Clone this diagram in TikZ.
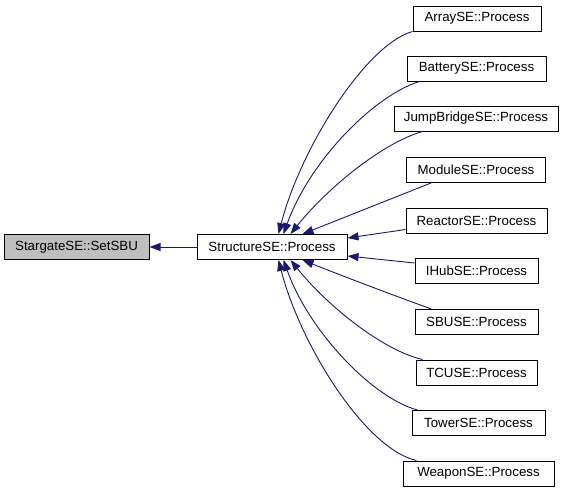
\documentclass[tikz,border=0pt]{standalone}
\usepackage{fontspec}
\setmainfont{Liberation Sans}
\usetikzlibrary{arrows.meta,calc}
\definecolor{edgeblue}{HTML}{191970}
\definecolor{hilite}{HTML}{BFBFBF}
\begin{document}
\begin{tikzpicture}[x=1pt,y=-1pt,
  fn/.style={draw=black,fill=white,line width=1pt,minimum height=25pt,inner sep=0pt,font=\fontsize{13.3}{16}\selectfont,anchor=center},
  cur/.style={fn,fill=hilite},
  edge/.style={draw=edgeblue,line width=0.9pt,{Triangle[length=11pt,width=8pt,fill=edgeblue]}-}]
\useasboundingbox (0,0) rectangle (564,493);
\node[cur,minimum width=145pt] (sg) at (76.5,247) {StargateSE::SetSBU};
\node[fn,minimum width=150pt] (st) at (272,247) {StructureSE::Process};
\node[fn,minimum width=128pt] (arr) at (477,18.5) {ArraySE::Process};
\node[fn,minimum width=139pt] (bat) at (476.5,68.5) {BatterySE::Process};
\node[fn,minimum width=164pt] (jmp) at (476,118.5) {JumpBridgeSE::Process};
\node[fn,minimum width=139pt] (mod) at (476,170) {ModuleSE::Process};
\node[fn,minimum width=141pt] (rea) at (476.5,220.5) {ReactorSE::Process};
\node[fn,minimum width=123pt] (ihb) at (476.5,271) {IHubSE::Process};
\node[fn,minimum width=123pt] (sbu) at (476.5,322) {SBUSE::Process};
\node[fn,minimum width=121pt] (tcu) at (476.5,372.5) {TCUSE::Process};
\node[fn,minimum width=133pt] (tow) at (478.5,423) {TowerSE::Process};
\node[fn,minimum width=151pt] (wea) at (478.5,473.5) {WeaponSE::Process};
% edges
\draw[edge] (sg.east) -- (st.west);
\draw[edge] ($(st.north west)+(82,0)$) .. controls (300,150) and (365,45) .. (arr.south west);
\draw[edge] ($(st.north west)+(87,0)$) .. controls (310,160) and (375,95) .. ($(bat.south west)+(13,0)$);
\draw[edge] ($(st.north west)+(94,0)$) .. controls (330,185) and (385,142) .. ($(jmp.south west)+(29,0)$);
\draw[edge] ($(st.north west)+(106,0)$) -- ($(mod.south west)+(25,0)$);
\draw[edge] ($(st.east)+(0,-9)$) -- ($(rea.south west)+(0,-4)$);
\draw[edge] ($(st.east)+(0,9)$) -- ($(ihb.north west)+(0,5)$);
\draw[edge] ($(st.south west)+(106,0)$) .. controls (340,275) and (395,296) .. ($(sbu.north west)+(17,0)$);
\draw[edge] ($(st.south west)+(94,0)$) .. controls (330,309) and (385,351) .. ($(tcu.north west)+(7,0)$);
\draw[edge] ($(st.south west)+(87,0)$) .. controls (310,334) and (375,399) .. ($(tow.north west)+(6,0)$);
\draw[edge] ($(st.south west)+(82,0)$) .. controls (300,344) and (365,449) .. ($(wea.north west)+(14,0)$);
\end{tikzpicture}
\end{document}
